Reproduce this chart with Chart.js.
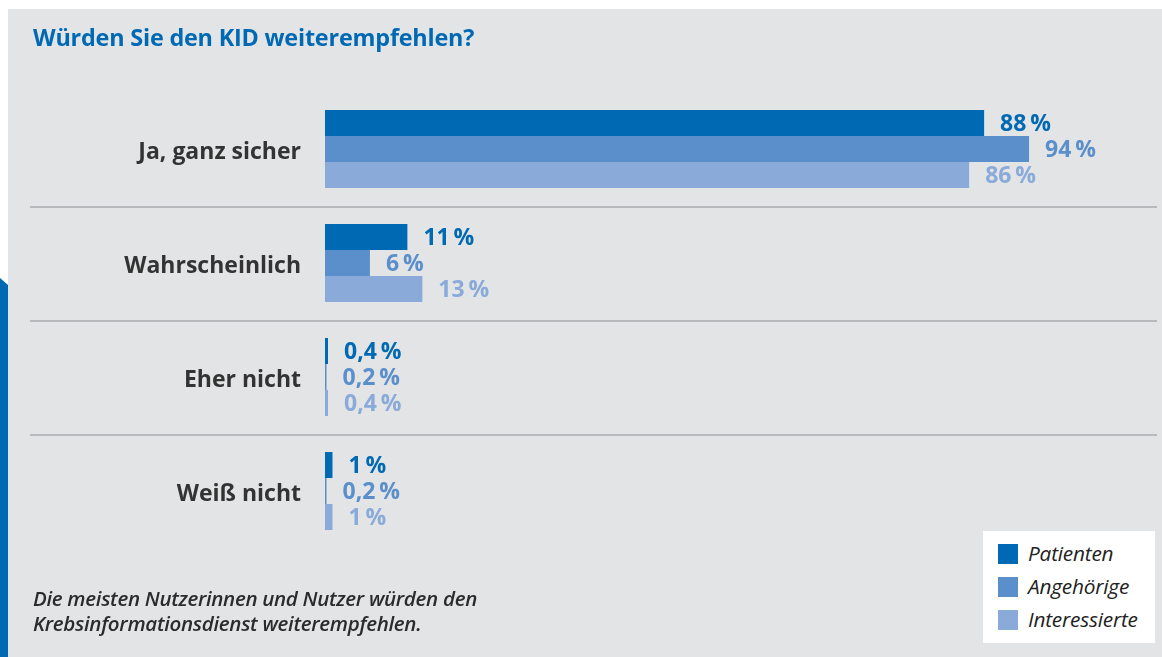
<!DOCTYPE html>
<html><head><meta charset="utf-8">
<script src="https://cdn.jsdelivr.net/npm/chart.js@4/dist/chart.umd.min.js"></script>
<style>
html,body{margin:0;padding:0;background:#fff;}
#wrap{position:relative;width:1162px;height:657px;overflow:hidden;background:#fff;font-family:"Open Sans",sans-serif;}
#panel{position:absolute;left:8px;top:9px;width:1154px;height:648px;background:#e3e4e6;}
#strip{position:absolute;left:0;top:278px;width:8px;height:379px;background:#0069b4;clip-path:polygon(0 0,100% 7px,100% 100%,0 100%);}
#cv{position:absolute;left:0;top:0;}
#title{position:absolute;left:33px;top:21px;font-size:23.4px;font-weight:700;color:#0069b4;letter-spacing:-0.2px;white-space:nowrap;}
#note{position:absolute;left:33px;top:586px;font-size:20.5px;font-weight:600;font-style:italic;color:#2b2b2b;line-height:25px;letter-spacing:-0.3px;white-space:nowrap;}
#legend{position:absolute;left:983px;top:531px;width:172px;height:112px;background:#fff;}
.li{position:absolute;left:15px;height:22px;font-size:20.8px;font-style:italic;color:#222;line-height:22px;}
.li span{position:absolute;left:0;top:1px;width:20px;height:20px;}
.li b{position:absolute;left:30px;top:-1px;font-weight:500;white-space:nowrap;letter-spacing:-0.2px;}
</style></head>
<body>
<div id="wrap">
<div id="panel"></div>
<div id="strip"></div>
<canvas id="cv" width="1162" height="657"></canvas>
<div id="title">Würden Sie den KID weiterempfehlen?</div>
<div id="note">Die meisten Nutzerinnen und Nutzer würden den<br>Krebsinformationsdienst weiterempfehlen.</div>
<div id="legend"></div>
</div>
<script>
const categories = ['Ja, ganz sicher', 'Wahrscheinlich', 'Eher nicht', 'Weiß nicht'];
const seriesNames = ['Patienten', 'Angehörige', 'Interessierte'];
const patienten = [88, 11, 0.4, 1];
const angehoerige = [94, 6, 0.2, 0.2];
const interessierte = [86, 13, 0.4, 1];
const colors = ['#0069b4', '#5b8fcb', '#8aaada'];

const seriesValues = [patienten, angehoerige, interessierte];

// legend
const lg = document.getElementById('legend');
seriesNames.forEach((n, i) => {
  const d = document.createElement('div');
  d.className = 'li';
  d.style.top = (12 + i * 33) + 'px';
  d.innerHTML = '<span style="background:' + colors[i] + '"></span><b>' + n + '</b>';
  lg.appendChild(d);
});

const fmt = v => String(v).replace('.', ',') + '\u2009%';

const sepPlugin = {
  id: 'sep',
  beforeDatasetsDraw(chart) {
    const ys = chart.scales.y, ctx = chart.ctx;
    ctx.save();
    ctx.strokeStyle = '#b9babd';
    ctx.lineWidth = 2;
    for (let i = 0; i < categories.length - 1; i++) {
      const y = Math.round((ys.getPixelForValue(i) + ys.getPixelForValue(i + 1)) / 2) + 1;
      ctx.beginPath();
      ctx.moveTo(30, y);
      ctx.lineTo(1157, y);
      ctx.stroke();
    }
    ctx.restore();
  },
  afterDatasetsDraw(chart) {
    const ctx = chart.ctx;
    ctx.save();
    ctx.font = '700 23px "Open Sans"';
    ctx.textBaseline = 'middle';
    ctx.textAlign = 'left';
    chart.data.datasets.forEach((ds, di) => {
      const meta = chart.getDatasetMeta(di);
      meta.data.forEach((el, j) => {
        ctx.fillStyle = colors[di];
        ctx.fillText(fmt(ds.data[j]), el.x + 16, el.y + 1);
      });
    });
    ctx.restore();
  }
};

new Chart(document.getElementById('cv'), {
  type: 'bar',
  data: {
    labels: categories,
    datasets: seriesValues.map((vals, i) => ({
      label: seriesNames[i],
      data: vals,
      backgroundColor: colors[i],
      borderWidth: 0,
      barPercentage: 1.0,
      categoryPercentage: 0.684
    }))
  },
  options: {
    indexAxis: 'y',
    responsive: false,
    animation: false,
    layout: { padding: { left: 0, right: 88, top: 92, bottom: 109 } },
    plugins: { legend: { display: false }, tooltip: { enabled: false } },
    scales: {
      x: { display: false, min: 0, max: 100 },
      y: {
        afterFit(scale) { scale.width = 325; },
        grid: { display: false, drawTicks: false },
        border: { display: false },
        ticks: {
          padding: 24,
          labelOffset: 3,
          color: '#333333',
          font: { family: '"Open Sans"', size: 23, weight: '700' }
        }
      }
    }
  },
  plugins: [sepPlugin]
});
</script>
</body></html>
